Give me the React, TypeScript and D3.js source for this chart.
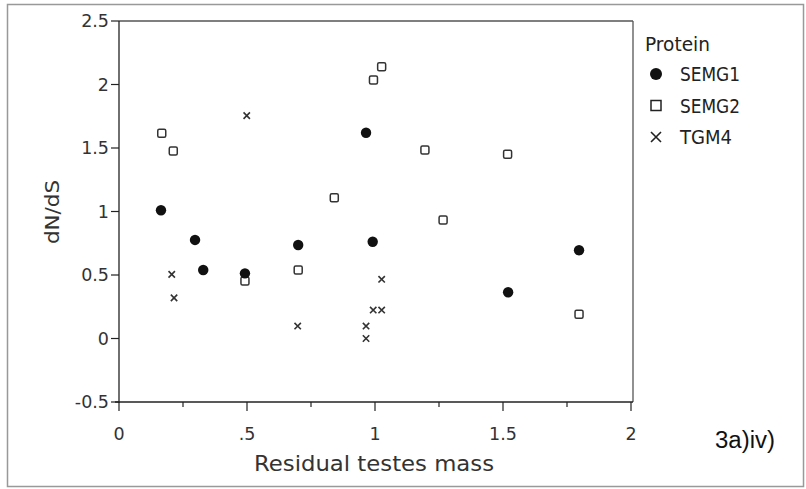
import React from "react";
import * as d3 from "d3";

const semg1X = [0.164, 0.297, 0.329, 0.492, 0.70, 0.991, 0.965, 1.52, 1.797];
const semg1Y = [1.01, 0.776, 0.539, 0.513, 0.736, 0.762, 1.62, 0.364, 0.695];
const semg2X = [0.167, 0.212, 0.492, 0.70, 0.841, 0.994, 1.026, 1.195, 1.266, 1.518, 1.797];
const semg2Y = [1.616, 1.476, 0.453, 0.539, 1.109, 2.035, 2.14, 1.484, 0.933, 1.45, 0.19];
const tgm4X = [0.206, 0.215, 0.499, 0.698, 0.965, 0.965, 0.993, 1.026, 1.026];
const tgm4Y = [0.505, 0.32, 1.755, 0.098, 0.098, 0.0, 0.224, 0.224, 0.466];

const yTicks = [-0.5, 0, 0.5, 1, 1.5, 2, 2.5];
const yTickLabels = ["-0.5", "0", "0.5", "1", "1.5", "2", "2.5"];
const xMajor = [0, 0.5, 1, 1.5, 2];
const xMajorLabels = ["0", ".5", "1", "1.5", "2"];
const xMinor = [0.25, 0.75, 1.25, 1.75];
const legendItems = ["SEMG1", "SEMG2", "TGM4"];

const FONT = "'DejaVu Sans', sans-serif";

export default function App() {
  const x = d3.scaleLinear().domain([0, 2]).range([119, 631]);
  const y = d3.scaleLinear().domain([-0.5, 2.5]).range([402, 21]);
  const textCol = "#333";
  const axisCol = "#222";

  return (
    <svg
      width={806}
      height={489}
      style={{ position: "absolute", left: 0, top: 0, background: "#fff" }}
    >
      <rect x={0} y={0} width={806} height={489} fill="#fff" />
      {/* outer frame */}
      <rect x={7.5} y={4.5} width={796} height={482} fill="none" stroke="#999" strokeWidth={1.5} />
      {/* plot frame */}
      <line x1={x(0)} x2={x(2) + 2} y1={y(2.5)} y2={y(2.5)} stroke="#555" strokeWidth={1.3} />
      <line x1={x(2) + 2} x2={x(2) + 2} y1={y(2.5)} y2={y(-0.5)} stroke="#555" strokeWidth={1.3} />
      <line x1={x(0)} x2={x(0)} y1={y(2.5)} y2={y(-0.5) + 1} stroke={axisCol} strokeWidth={1.3} />
      <line x1={x(0) - 4} x2={x(2) + 2} y1={y(-0.5)} y2={y(-0.5)} stroke={axisCol} strokeWidth={1.3} />

      {/* y ticks */}
      {yTicks.map((t, i) => (
        <g key={"yt" + i}>
          <line x1={x(0) - 8} x2={x(0)} y1={y(t)} y2={y(t)} stroke={axisCol} strokeWidth={1.2} />
          <text
            x={x(0) - 10}
            y={y(t)}
            dy="0.36em"
            textAnchor="end"
            fontFamily={FONT}
            fontSize={17.5}
            fill={textCol}
          >
            {yTickLabels[i]}
          </text>
        </g>
      ))}

      {/* x ticks */}
      {xMajor.map((t, i) => (
        <g key={"xt" + i}>
          <line x1={x(t)} x2={x(t)} y1={y(-0.5)} y2={y(-0.5) + 9} stroke={axisCol} strokeWidth={1.2} />
          <text
            x={x(t)}
            y={y(-0.5) + 38}
            textAnchor="middle"
            fontFamily={FONT}
            fontSize={17.5}
            fill={textCol}
          >
            {xMajorLabels[i]}
          </text>
        </g>
      ))}
      {xMinor.map((t, i) => (
        <line key={"xm" + i} x1={x(t)} x2={x(t)} y1={y(-0.5)} y2={y(-0.5) + 5} stroke={axisCol} strokeWidth={1.2} />
      ))}

      {/* axis titles */}
      <text
        x={374}
        y={471}
        textAnchor="middle"
        fontFamily={FONT}
        fontSize={21}
        fill={textCol}
        textLength={240}
        lengthAdjust="spacingAndGlyphs"
      >
        Residual testes mass
      </text>
      <text
        transform={`translate(59,212) rotate(-90)`}
        textAnchor="middle"
        fontFamily={FONT}
        fontSize={20}
        fill={textCol}
        textLength={64}
        lengthAdjust="spacingAndGlyphs"
      >
        dN/dS
      </text>
      <text
        x={715}
        y={448}
        fontFamily="'Liberation Sans', Arial, sans-serif"
        fontSize={23}
        fill="#111"
        textLength={60}
        lengthAdjust="spacingAndGlyphs"
      >
        3a)iv)
      </text>

      {/* points */}
      {tgm4X.map((v, i) => {
        const cx = x(v);
        const cy = y(tgm4Y[i]);
        const s = 3.2;
        return (
          <path
            key={"t" + i}
            d={`M${cx - s},${cy - s}L${cx + s},${cy + s}M${cx - s},${cy + s}L${cx + s},${cy - s}`}
            stroke="#333"
            strokeWidth={1.6}
          />
        );
      })}
      {semg2X.map((v, i) => (
        <rect
          key={"s2" + i}
          x={x(v) - 4}
          y={y(semg2Y[i]) - 4}
          width={8}
          height={8}
          rx={1.5}
          fill="#fff"
          stroke="#333"
          strokeWidth={1.5}
        />
      ))}
      {semg1X.map((v, i) => (
        <circle key={"s1" + i} cx={x(v)} cy={y(semg1Y[i])} r={5.2} fill="#111" />
      ))}

      {/* legend */}
      <text
        x={645}
        y={51}
        fontFamily={FONT}
        fontSize={20}
        fill="#222"
        textLength={65}
        lengthAdjust="spacingAndGlyphs"
      >
        Protein
      </text>
      {legendItems.map((name, i) => {
        const ly = 74 + i * 31.5;
        const widths = [60, 60, 52];
        let marker;
        if (i === 0) marker = <circle cx={656} cy={ly} r={6} fill="#111" />;
        else if (i === 1)
          marker = <rect x={651} y={ly - 5} width={10} height={10} fill="#fff" stroke="#222" strokeWidth={1.5} />;
        else
          marker = (
            <path
              d={`M651,${ly - 5}L661,${ly + 5}M651,${ly + 5}L661,${ly - 5}`}
              stroke="#222"
              strokeWidth={1.6}
            />
          );
        return (
          <g key={"lg" + i}>
            {marker}
            <text
              x={680}
              y={ly}
              dy="0.36em"
              fontFamily={FONT}
              fontSize={20}
              fill="#222"
              textLength={widths[i]}
              lengthAdjust="spacingAndGlyphs"
            >
              {name}
            </text>
          </g>
        );
      })}
    </svg>
  );
}
